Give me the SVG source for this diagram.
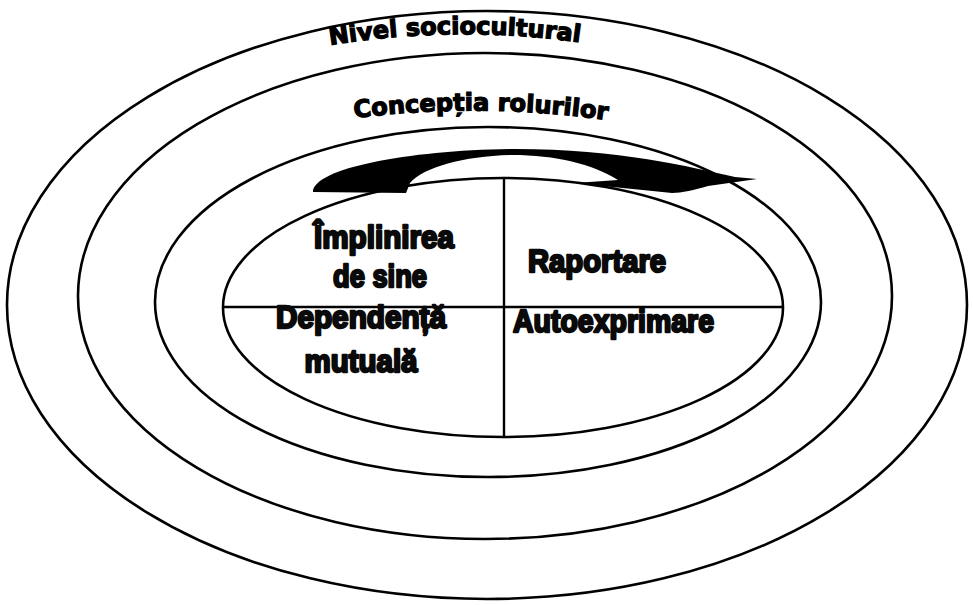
<svg xmlns="http://www.w3.org/2000/svg" width="973" height="605" viewBox="0 0 973 605">
<style>
.ring{fill:none;stroke:#000;stroke-width:2.6}
.div{stroke:#000;stroke-width:2.4}
.arc{font-family:"DejaVu Sans",sans-serif;font-weight:bold;font-size:24px;fill:#000;stroke:#000;stroke-width:1.3}
.q{font-family:"Liberation Sans",Arial,sans-serif;font-weight:bold;font-size:32px;fill:#0a0a0a;stroke:#0a0a0a;stroke-width:2.4;stroke-linejoin:round;text-anchor:middle}
</style>
<defs>
<path id="p1" d="M 318,47 Q 455,23 592,44"/>
<path id="p2" d="M 348,119 Q 480,101 614,121"/>
</defs>
<rect width="973" height="605" fill="#fff"/>
<g id="ring-sociocultural">
<ellipse class="ring" cx="487" cy="305" rx="480" ry="294"/>
<text class="arc"><textPath href="#p1" startOffset="50%" text-anchor="middle">Nivel sociocultural</textPath></text>
</g>
<g id="ring-roles">
<ellipse class="ring" cx="485" cy="296" rx="407" ry="243"/>
<text class="arc"><textPath href="#p2" startOffset="50%" text-anchor="middle">Concepția rolurilor</textPath></text>
</g>
<g id="ring-3">
<ellipse class="ring" cx="488" cy="302" rx="333" ry="175"/>
</g>
<g id="core">
<ellipse class="ring" cx="503" cy="307.5" rx="280" ry="129.5"/>
<line class="div" x1="223" y1="307" x2="783" y2="307"/>
<line class="div" x1="504" y1="178" x2="504" y2="437"/>
</g>
<g id="q-implinirea">
<text class="q" x="384" y="248" textLength="140" lengthAdjust="spacingAndGlyphs">Împlinirea</text>
<text class="q" x="380" y="287" textLength="94" lengthAdjust="spacingAndGlyphs">de sine</text>
</g>
<g id="q-raportare">
<text class="q" x="597" y="272" textLength="138" lengthAdjust="spacingAndGlyphs">Raportare</text>
</g>
<g id="q-dependenta">
<text class="q" x="361" y="328" textLength="170" lengthAdjust="spacingAndGlyphs">Dependență</text>
<text class="q" x="361" y="372" textLength="113" lengthAdjust="spacingAndGlyphs">mutuală</text>
</g>
<g id="q-autoexprimare">
<text class="q" x="513" y="332" textLength="201" lengthAdjust="spacingAndGlyphs" style="text-anchor:start">Autoexprimare</text>
</g>
<g id="connectors">
<path d="M 313,192 C 314,168 410,150 515,149 C 620,149 690,167 735,177 L 757,179 L 708,186 C 694,190 682,193 672,193 C 640,190 605,186 575,183 L 618,180 C 592,164 556,155 512,155 C 465,156 424,167 410,183 L 406,193 Z" fill="#000"/>
</g>
</svg>
